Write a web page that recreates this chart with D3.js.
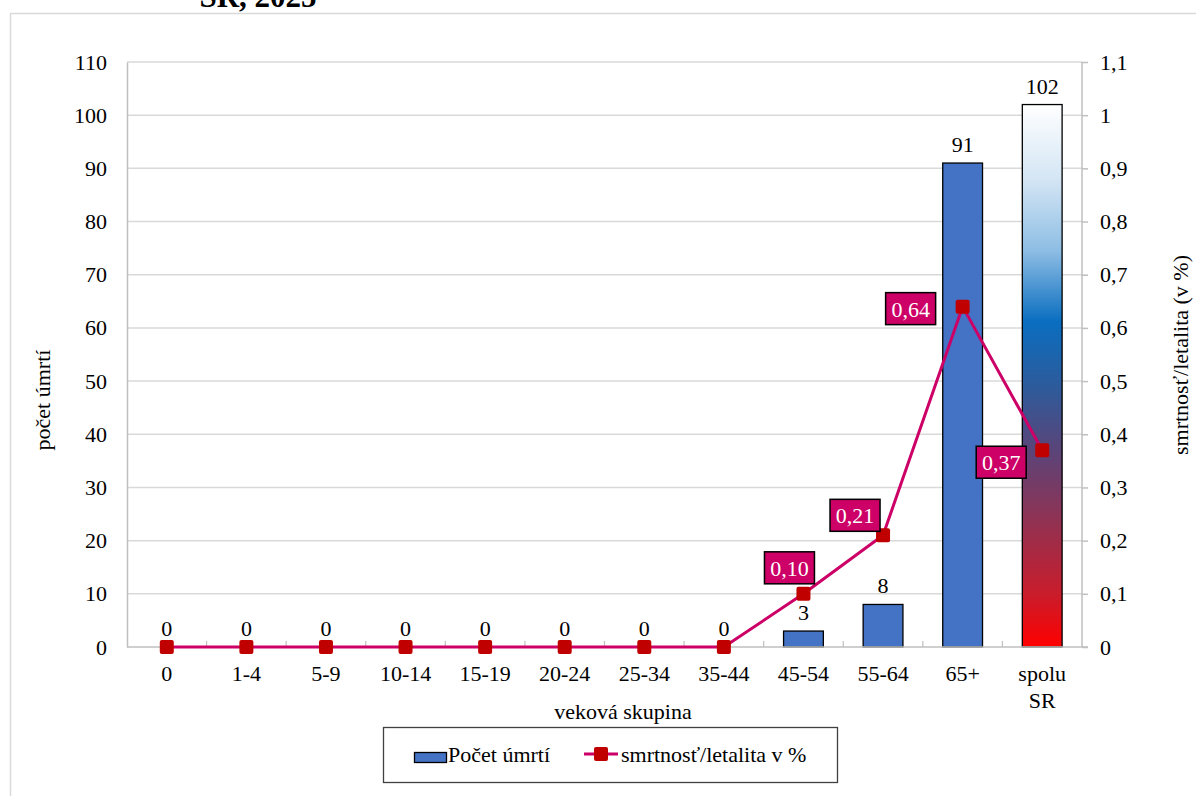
<!DOCTYPE html>
<html lang="sk">
<head>
<meta charset="utf-8">
<script src="https://cdn.jsdelivr.net/npm/d3@7"></script>
<style>
  html, body { margin: 0; padding: 0; background: #fff; }
  svg { display: block; font-family: "Liberation Serif", "Times New Roman", serif; }
</style>
</head>
<body>
<svg id="chart" width="1196" height="796"></svg>
<script>
// Age groups and values
const categories = ["0", "1-4", "5-9", "10-14", "15-19", "20-24", "25-34", "35-44", "45-54", "55-64", "65+", "spolu SR"];
const deaths = [0, 0, 0, 0, 0, 0, 0, 0, 3, 8, 91, 102];
const fatality = [0, 0, 0, 0, 0, 0, 0, 0, 0.10, 0.21, 0.64, 0.37];
const leftTicks = [0, 10, 20, 30, 40, 50, 60, 70, 80, 90, 100, 110];
const rightTicks = [0, 0.1, 0.2, 0.3, 0.4, 0.5, 0.6, 0.7, 0.8, 0.9, 1, 1.1];

const svg = d3.select("#chart");
const W = 1196, H = 796;
const plot = { left: 127, right: 1082, top: 62, bottom: 647 };

const BAR = "#4472C4", LINE = "#CC0066", MARK = "#C00000", GRID = "#d9d9d9", AXIS = "#bfbfbf";
const FS = 22;

// Gradient for the total bar
const defs = svg.append("defs");
const grad = defs.append("linearGradient").attr("id", "totalGrad")
  .attr("x1", 0).attr("y1", 0).attr("x2", 0).attr("y2", 1);
[[0, "#ffffff"], [0.14, "#d3e5f4"], [0.27, "#8dbde4"], [0.40, "#0a6ec0"], [0.52, "#2d5b9b"],
 [0.64, "#5b4478"], [0.78, "#96304f"], [0.9, "#c81d2c"], [1, "#ff0000"]]
  .forEach(([o, c]) => grad.append("stop").attr("offset", o).attr("stop-color", c));

// Outer chart frame
svg.append("rect").attr("x", 10.5).attr("y", 13.5).attr("width", W).attr("height", H)
  .attr("fill", "none").attr("stroke", GRID).attr("stroke-width", 1.5);

// Title (last line)
svg.append("text").attr("x", 258).attr("y", 7).attr("text-anchor", "middle")
  .attr("font-size", 31).attr("font-weight", "bold").text("SR, 2025");

// Scales
const x = d3.scaleBand().domain(categories).range([plot.left, plot.right])
  .paddingInner(0.5).paddingOuter(0.25);
const y = d3.scaleLinear().domain([0, 110]).range([plot.bottom, plot.top]);
const y2 = d3.scaleLinear().domain([0, 1.1]).range([plot.bottom, plot.top]);
const cx = c => x(c) + x.bandwidth() / 2;

// Gridlines
svg.append("g").selectAll("line").data(leftTicks.slice(1)).join("line")
  .attr("x1", plot.left).attr("x2", plot.right)
  .attr("y1", d => y(d)).attr("y2", d => y(d))
  .attr("stroke", GRID).attr("stroke-width", 1.5);

// Bars
svg.append("g").selectAll("rect").data(categories).join("rect")
  .attr("x", c => x(c)).attr("width", x.bandwidth())
  .attr("y", (c, i) => y(deaths[i])).attr("height", (c, i) => y(0) - y(deaths[i]))
  .attr("fill", (c, i) => i === categories.length - 1 ? "url(#totalGrad)" : BAR)
  .attr("stroke", "#000").attr("stroke-width", (c, i) => deaths[i] > 0 ? 1.3 : 0);

// Bar value labels
svg.append("g").selectAll("text").data(categories).join("text")
  .attr("x", c => cx(c)).attr("y", (c, i) => y(deaths[i]) - 11)
  .attr("text-anchor", "middle").attr("font-size", FS).text((c, i) => deaths[i]);

// Axes
const gx = svg.append("g").attr("transform", `translate(0,${plot.bottom})`);
gx.append("line").attr("x1", plot.left).attr("x2", plot.right + 6)
  .attr("stroke", AXIS).attr("stroke-width", 1.5);
gx.selectAll("line.tk").data(d3.range(1, categories.length)).join("line").attr("class", "tk")
  .attr("x1", i => plot.left + x.step() * 0.25 + (i - 0.25) * x.step() - x.step() * 0.0)
  .attr("x2", i => plot.left + x.step() * 0.25 + (i - 0.25) * x.step() - x.step() * 0.0)
  .attr("y1", 0).attr("y2", -6).attr("stroke", AXIS).attr("stroke-width", 1.2);
gx.selectAll("text").data(categories).join("text")
  .attr("x", c => cx(c)).attr("y", 34).attr("text-anchor", "middle").attr("font-size", FS)
  .each(function (c) {
    const parts = c.split(" ");
    d3.select(this).selectAll("tspan").data(parts).join("tspan")
      .attr("x", cx(c)).attr("dy", (p, j) => j === 0 ? 0 : 27).text(p => p);
  });

const gy = svg.append("g").attr("transform", `translate(${plot.left},0)`)
  .call(d3.axisLeft(y).tickValues(leftTicks).tickSize(0).tickPadding(20));
gy.select(".domain").attr("stroke", AXIS).attr("stroke-width", 1.5);
gy.selectAll("text").attr("font-size", FS).attr("font-family", "Liberation Serif").attr("fill", "#000");

const fmt1 = v => d3.format(".1~f")(v).replace(".", ",");
const gy2 = svg.append("g").attr("transform", `translate(${plot.right},0)`)
  .call(d3.axisRight(y2).tickValues(rightTicks).tickSize(6).tickPadding(12).tickFormat(fmt1));
gy2.select(".domain").attr("stroke", AXIS).attr("stroke-width", 1.5).attr("d", `M0,${plot.top}V${plot.bottom}`);
gy2.selectAll(".tick line").attr("stroke", AXIS).attr("stroke-width", 1.5);
gy2.selectAll("text").attr("font-size", FS).attr("font-family", "Liberation Serif").attr("fill", "#000");

// Axis titles
svg.append("text").attr("transform", "translate(50,400) rotate(-90)")
  .attr("text-anchor", "middle").attr("font-size", FS).text("počet úmrtí");
svg.append("text").attr("transform", "translate(1188,355) rotate(-90)")
  .attr("text-anchor", "middle").attr("font-size", FS).text("smrtnosť/letalita (v %)");
svg.append("text").attr("x", 623).attr("y", 719)
  .attr("text-anchor", "middle").attr("font-size", FS).text("veková skupina");

// Fatality line and markers
const line = d3.line().x((d, i) => cx(categories[i])).y(d => y2(d));
svg.append("path").datum(fatality).attr("d", line)
  .attr("fill", "none").attr("stroke", LINE).attr("stroke-width", 3).attr("stroke-linejoin", "round");
svg.append("g").selectAll("rect").data(fatality).join("rect")
  .attr("x", (d, i) => cx(categories[i]) - 7).attr("y", d => y2(d) - 7)
  .attr("width", 14).attr("height", 14).attr("rx", 2).attr("fill", MARK);

// Value boxes for non-zero fatality points (offsets from the point)
const boxOffset = { 8: [-14, -26], 9: [-28, -20], 10: [-52, 2], 11: [-41, 12] };
const fmt2 = v => d3.format(".2f")(v).replace(".", ",");
const boxes = svg.append("g").selectAll("g").data(fatality.map((v, i) => ({ v, i })).filter(d => d.v > 0))
  .join("g")
  .attr("transform", d => `translate(${cx(categories[d.i]) + boxOffset[d.i][0]},${y2(d.v) + boxOffset[d.i][1]})`);
boxes.append("rect").attr("x", -25).attr("y", -16).attr("width", 50).attr("height", 32)
  .attr("fill", LINE).attr("stroke", "#000").attr("stroke-width", 1.5);
boxes.append("text").attr("text-anchor", "middle").attr("y", 8).attr("font-size", FS)
  .attr("fill", "#fff").text(d => fmt2(d.v));

// Legend
const lg = svg.append("g");
lg.append("rect").attr("x", 383.5).attr("y", 727.5).attr("width", 454).attr("height", 55)
  .attr("fill", "#fff").attr("stroke", "#404040").attr("stroke-width", 1.3);
lg.append("rect").attr("x", 414.5).attr("y", 752.5).attr("width", 32).attr("height", 10)
  .attr("fill", BAR).attr("stroke", "#000").attr("stroke-width", 1.3);
lg.append("text").attr("x", 448).attr("y", 762).attr("font-size", FS).text("Počet úmrtí");
lg.append("line").attr("x1", 584).attr("x2", 618).attr("y1", 754).attr("y2", 754)
  .attr("stroke", LINE).attr("stroke-width", 3);
lg.append("rect").attr("x", 594).attr("y", 747).attr("width", 14).attr("height", 14).attr("rx", 2).attr("fill", MARK);
lg.append("text").attr("x", 621).attr("y", 762).attr("font-size", FS).text("smrtnosť/letalita v %");
</script>
</body>
</html>
